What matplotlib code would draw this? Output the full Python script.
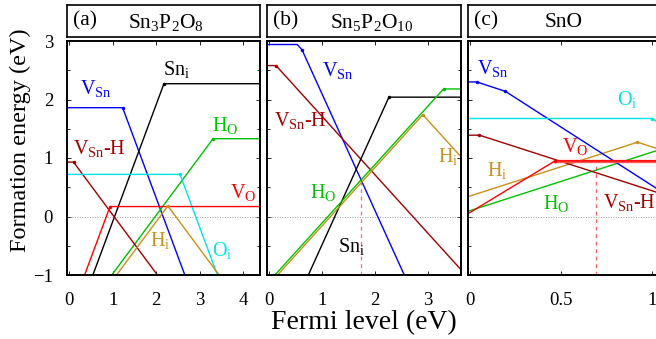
import numpy as np
import matplotlib
matplotlib.use('Agg')
import matplotlib.pyplot as plt
from matplotlib.ticker import MultipleLocator

plt.rcParams['font.family'] = 'Liberation Serif'
plt.rcParams['mathtext.fontset'] = 'custom'
plt.rcParams['mathtext.rm'] = 'Liberation Serif'
plt.rcParams['mathtext.it'] = 'Liberation Serif:italic'

# colours for each defect
colors = {
    'VSn': '#0000ff',
    'VSnH': '#a00000',
    'Sni': '#000000',
    'HO': '#00c000',
    'Hi': '#c8901a',
    'Oi': '#00e5e5',
    'VO': '#ff0000',
}

# =======
# (a) Sn3P2O8 : vertices (Fermi level, formation energy)
# =======
a_VSn_x = [-0.05, 1.23, 2.70]
a_VSn_y = [1.86, 1.86, -1.08]
a_Sni_x = [0.50, 2.18, 4.40]
a_Sni_y = [-1.09, 2.27, 2.27]
a_HO_x = [0.98, 3.31, 4.40]
a_HO_y = [-1.00, 1.33, 1.33]
a_VSnH_x = [-0.05, 0.10, 2.03]
a_VSnH_y = [0.93, 0.93, -1.00]
a_Oi_x = [-0.05, 2.55, 3.41]
a_Oi_y = [0.72, 0.72, -1.00]
a_VO_x = [0.355, 0.94, 4.40]
a_VO_y = [-1.00, 0.17, 0.17]
a_Hi_x = [1.09, 2.27, 3.45]
a_Hi_y = [-1.00, 0.18, -1.00]

# =======
# (b) Sn5P2O10
# =======
b_VSn_x = [-0.04, 0.53, 0.62, 2.55]
b_VSn_y = [2.94, 2.94, 2.85, -1.00]
b_VSnH_x = [-0.04, 0.13, 3.62]
b_VSnH_y = [2.58, 2.58, -0.91]
b_Sni_x = [0.74, 2.26, 3.62]
b_Sni_y = [-1.00, 2.04, 2.04]
b_HO_x = [0.11, 3.29, 3.62]
b_HO_y = [-1.00, 2.18, 2.18]
b_Hi_x = [0.16, 2.90, 3.62]
b_Hi_y = [-1.00, 1.74, 1.02]
b_Ef = 1.74  # equilibrium Fermi level
b_Ef_E = 0.63

# =======
# (c) SnO
# =======
c_VSn_x = [-0.01, 0.037, 0.194, 1.05]
c_VSn_y = [2.30, 2.30, 2.14, 0.43]
c_Oi_x = [-0.01, 1.00, 1.05]
c_Oi_y = [1.675, 1.675, 1.575]
c_VSnH_x = [-0.01, 0.052, 1.05]
c_VSnH_y = [1.39, 1.39, 0.39]
c_VO_x = [-0.01, 0.467, 1.05]
c_VO_y = [0.05, 0.95, 0.95]
c_Hi_x = [-0.01, 0.92, 1.05]
c_Hi_y = [0.34, 1.27, 1.14]
c_HO_x = [-0.01, 1.05]
c_HO_y = [0.09, 1.15]
c_Ef = 0.69
c_Ef_E = 0.95

W, H = 656, 339
fig = plt.figure(figsize=(W / 100, H / 100), dpi=100)


def px_axes(x0, x1, y0, y1):
    return fig.add_axes([x0 / W, 1 - y1 / H, (x1 - x0) / W, (y1 - y0) / H])


def draw(ax, x, y, key, dots, lw=1.0, color=None):
    c = color or colors[key]
    ax.plot(x, y, color=c, lw=lw, solid_joinstyle='miter')
    for i in dots:
        ax.plot(x[i], y[i], 'o', ms=2.5, color=colors[key], mec='none')


def style(ax, xlim, xmajor, show_y):
    ax.set_xlim(*xlim)
    ax.set_ylim(-1, 3)
    ax.axhline(0, color='gray', ls=(0, (1, 2)), lw=0.6)
    ax.xaxis.set_major_locator(MultipleLocator(xmajor))
    ax.yaxis.set_major_locator(MultipleLocator(1))
    ax.yaxis.set_minor_locator(MultipleLocator(0.5))
    ax.tick_params(which='both', direction='in', top=True, right=True,
                   length=3, width=0.6, labelsize=13.5)
    ax.tick_params(axis='x', pad=12)
    ax.tick_params(axis='y', pad=10)
    ax.tick_params(which='minor', length=2)
    ax.tick_params(axis='y', labelleft=show_y)
    for s in ax.spines.values():
        s.set_linewidth(1.4)


def title_box(x0, x1, tag, name, name_x):
    tb = px_axes(x0, x1, 5, 37)
    tb.set_xticks([])
    tb.set_yticks([])
    for s in tb.spines.values():
        s.set_linewidth(1.2)
    tb.text(6 / (x1 - x0), 0.5, tag, fontsize=15.5, va='center', ha='left',
            transform=tb.transAxes)
    tb.text((name_x - x0) / (x1 - x0), 0.45, name, fontsize=15.5,
            va='center', ha='left', transform=tb.transAxes)


lab = dict(fontsize=14.5, ha='left', va='center')

# panel (a)
ax = px_axes(67, 260, 41, 275)
style(ax, (-0.05, 4.39), 1, True)
draw(ax, a_VSn_x, a_VSn_y, 'VSn', [1])
draw(ax, a_Sni_x, a_Sni_y, 'Sni', [1])
draw(ax, a_HO_x, a_HO_y, 'HO', [1])
draw(ax, a_VSnH_x, a_VSnH_y, 'VSnH', [1])
draw(ax, a_Oi_x, a_Oi_y, 'Oi', [1])
draw(ax, a_VO_x, a_VO_y, 'VO', [1])
draw(ax, a_Hi_x, a_Hi_y, 'Hi', [1])
ax.text(0.25, 2.19, r'V$_{\rm Sn}$', color=colors['VSn'], **lab)
ax.text(2.16, 2.52, r'Sn$_{\rm i}$', color=colors['Sni'], **lab)
ax.text(3.29, 1.56, r'H$_{\rm O}$', color=colors['HO'], **lab)
ax.text(0.09, 1.16, r'V$_{\rm Sn}$-H', color=colors['VSnH'], **lab)
ax.text(3.70, 0.41, r'V$_{\rm O}$', color=colors['VO'], **lab)
ax.text(1.86, -0.41, r'H$_{\rm i}$', color=colors['Hi'], **lab)
ax.text(3.29, -0.58, r'O$_{\rm i}$', color=colors['Oi'], **lab)
title_box(67, 260, '(a)', r'Sn$_3$P$_2$O$_8$', 128)

# panel (b)
ax = px_axes(267, 461, 41, 275)
style(ax, (-0.04, 3.62), 1, False)
ax.plot([b_Ef, b_Ef], [-1, b_Ef_E], color='#ff6666', ls=(0, (3, 3)), lw=0.9)
draw(ax, b_VSn_x, b_VSn_y, 'VSn', [2])
draw(ax, b_VSnH_x, b_VSnH_y, 'VSnH', [1])
draw(ax, b_Sni_x, b_Sni_y, 'Sni', [1])
draw(ax, b_Hi_x, b_Hi_y, 'Hi', [1])
draw(ax, b_HO_x, b_HO_y, 'HO', [1])
ax.text(0.99, 2.50, r'V$_{\rm Sn}$', color=colors['VSn'], **lab)
ax.text(0.09, 1.64, r'V$_{\rm Sn}$-H', color=colors['VSnH'], **lab)
ax.text(3.19, 1.02, r'H$_{\rm i}$', color=colors['Hi'], **lab)
ax.text(0.77, 0.41, r'H$_{\rm O}$', color=colors['HO'], **lab)
ax.text(1.30, -0.51, r'Sn$_{\rm i}$', color=colors['Sni'], **lab)
title_box(267, 461, '(b)', r'Sn$_5$P$_2$O$_{10}$', 330)

# panel (c)
ax = px_axes(468, 660, 41, 275)
style(ax, (-0.011, 1.044), 0.5, False)
ax.plot([c_Ef, c_Ef], [-1, c_Ef_E], color='#ff6666', ls=(0, (3, 3)), lw=0.9)
draw(ax, c_HO_x, c_HO_y, 'HO', [])
draw(ax, c_Hi_x, c_Hi_y, 'Hi', [1])
draw(ax, c_VSnH_x, c_VSnH_y, 'VSnH', [1])
draw(ax, c_VSn_x, c_VSn_y, 'VSn', [1, 2])
draw(ax, c_Oi_x, c_Oi_y, 'Oi', [1])
ax.plot(c_VO_x[1:], c_VO_y[1:], color='#ff5555', lw=2.4)
draw(ax, c_VO_x, c_VO_y, 'VO', [1])
ax.xaxis.set_major_formatter(lambda v, p: f'{v:g}')
ax.text(0.037, 2.53, r'V$_{\rm Sn}$', color=colors['VSn'], **lab)
ax.text(0.81, 2.00, r'O$_{\rm i}$', color=colors['Oi'], **lab)
ax.text(0.505, 1.20, r'V$_{\rm O}$', color=colors['VO'], **lab)
ax.text(0.094, 0.79, r'H$_{\rm i}$', color=colors['Hi'], **lab)
ax.text(0.40, 0.22, r'H$_{\rm O}$', color=colors['HO'], **lab)
ax.text(0.73, 0.24, r'V$_{\rm Sn}$-H', color=colors['VSnH'], **lab)
title_box(468, 700, '(c)', 'SnO', 545)

fig.text(20 / W, 1 - 140 / H, 'Formation energy (eV)', fontsize=17.5,
         rotation=90, ha='center', va='center')
fig.text(364 / W, 1 - 323 / H, 'Fermi level (eV)', fontsize=20,
         ha='center', va='center')

fig.savefig('out.png', dpi=100)
